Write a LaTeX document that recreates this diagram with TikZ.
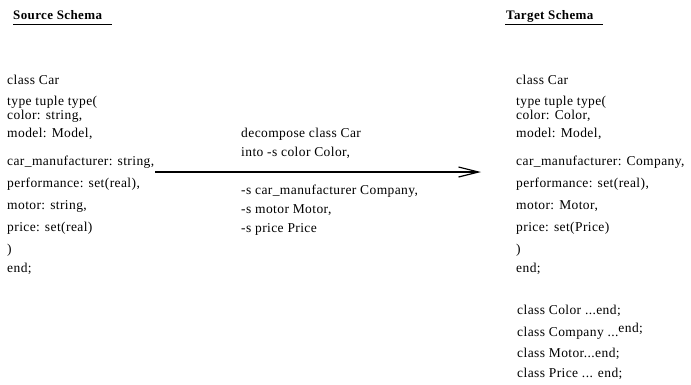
\documentclass[tikz,border=0pt]{standalone}
\usepackage{fontspec}
\setmainfont{Liberation Serif}[LetterSpace=3]
\usetikzlibrary{arrows.meta}
\begin{document}
\begin{tikzpicture}[x=1pt,y=-1pt,
  txt/.style={anchor=base west,inner sep=0pt,font=\fontsize{13.5}{15}\selectfont},
  pair/.style={anchor=base west,inner sep=0pt,align=left,font=\fontsize{13.5}{11}\selectfont},
  ttl/.style={anchor=base west,inner sep=0pt,font=\fontsize{13}{15}\selectfont\bfseries},
  uline/.style={line width=1pt},
  arr/.style={line width=1.2pt,-{Straight Barb[length=20pt,width=10pt,line width=1.2pt]}}]
\useasboundingbox (0,0) rectangle (691,384);
% titles
\node[ttl] (st) at (13,19.5) {Source Schema};
\node[ttl] (tt) at (506,19.5) {Target Schema};
\coordinate (su1) at (13,24.5); \coordinate (su2) at (112,24.5);
\coordinate (tu1) at (505,24.5); \coordinate (tu2) at (603,24.5);
\draw[uline] (su1) -- (su2);
\draw[uline] (tu1) -- (tu2);
% source schema
\node[txt] (l1) at (7,84) {class Car};
\node[pair] (l2) at (7,119) {type tuple type(\\color: string,};
\node[txt] (l4) at (7,137) {model: Model,};
\node[txt] (l5) at (7,165) {car\_manufacturer: string,};
\node[txt] (l6) at (7,187) {performance: set(real),};
\node[txt] (l7) at (7,209) {motor: string,};
\node[txt] (l8) at (7,231) {price: set(real)};
\node[txt] (l9) at (7,253) {)};
\node[txt] (l10) at (7,272) {end;};
% transformation
\node[txt] (m1) at (241,137) {decompose class Car};
\node[txt] (m2) at (241,156) {into -s color Color,};
\node[txt] (m3) at (241,194) {-s car\_manufacturer Company,};
\node[txt] (m4) at (241,213) {-s motor Motor,};
\node[txt] (m5) at (241,232) {-s price Price};
\coordinate (a1) at (155,172);
\coordinate (a2) at (481,172);
\draw[arr] (a1) -- (a2);
% target schema
\node[txt] (r1) at (516,84) {class Car};
\node[pair] (r2) at (516,119) {type tuple type(\\color: Color,};
\node[txt] (r4) at (516,137) {model: Model,};
\node[txt] (r5) at (516,165) {car\_manufacturer: Company,};
\node[txt] (r6) at (516,187) {performance: set(real),};
\node[txt] (r7) at (516,209) {motor: Motor,};
\node[txt] (r8) at (516,231) {price: set(Price)};
\node[txt] (r9) at (516,253) {)};
\node[txt] (r10) at (516,272) {end;};
\node[txt] (c1) at (517,314) {class Color ...end;};
\node[txt] (c2) at (517,336) {class Company ...\raisebox{3.5pt}{end;}};
\node[txt] (c3) at (517,357) {class Motor...end;};
\node[txt] (c4) at (517,377) {class Price ... end;};
\end{tikzpicture}
\end{document}
